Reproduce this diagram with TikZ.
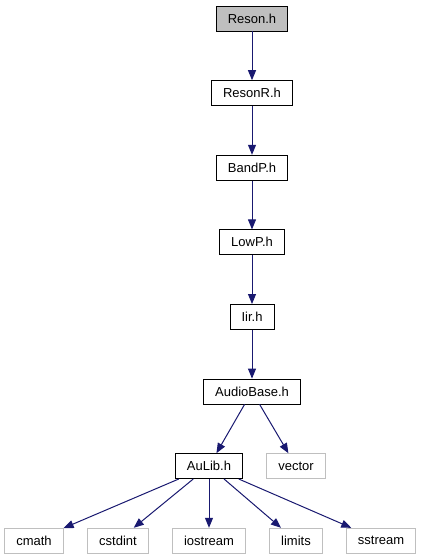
\documentclass[tikz,border=0pt]{standalone}
\usepackage{fontspec}
\setmainfont{Liberation Sans}
\usetikzlibrary{arrows.meta, positioning}
\definecolor{edgeblue}{HTML}{191970}
\definecolor{sysgray}{HTML}{BFBFBF}

\begin{document}
\begin{tikzpicture}[
    >={Triangle[length=10pt,width=8pt]},
    font=\fontsize{13}{15}\selectfont,
    box/.style={draw, thick, minimum height=25pt, inner xsep=11.5pt, inner ysep=0pt},
    sysbox/.style={box, draw=sysgray},
    dep/.style={->, edgeblue, line width=1pt}
]
\useasboundingbox (0,0) rectangle (421pt,-560pt);
\node[box, fill=sysgray] (reson) at (252pt,-18.5pt) {Reson.h};
\node[box, below=48.8pt of reson] (resonr) {ResonR.h};
\node[box, below=48.8pt of resonr] (bandp) {BandP.h};
\node[box, below=48.8pt of bandp] (lowp) {LowP.h};
\node[box, below=48.8pt of lowp] (iir) {Iir.h};
\node[box, below=48.8pt of iir] (audiobase) {AudioBase.h};
\node[box, below=48.8pt of audiobase, xshift=-43pt] (aulib) {AuLib.h};
\node[sysbox, below=48.8pt of audiobase, xshift=44pt] (vector) {vector};
\node[sysbox, below=48.8pt of aulib] (iostream) {iostream};
\node[sysbox, below=48.8pt of aulib, xshift=-175pt] (cmath) {cmath};
\node[sysbox, below=48.8pt of aulib, xshift=-91pt] (cstdint) {cstdint};
\node[sysbox, below=48.8pt of aulib, xshift=87pt] (limits) {limits};
\node[sysbox, below=48.8pt of aulib, xshift=172pt] (sstream) {sstream};
\draw[dep] (reson) -- (resonr);
\draw[dep] (resonr) -- (bandp);
\draw[dep] (bandp) -- (lowp);
\draw[dep] (lowp) -- (iir);
\draw[dep] (iir) -- (audiobase);
\draw[dep] (audiobase) -- (aulib);
\draw[dep] (audiobase) -- (vector);
\draw[dep] (aulib) -- (cmath);
\draw[dep] (aulib) -- (cstdint);
\draw[dep] (aulib) -- (iostream);
\draw[dep] (aulib) -- (limits);
\draw[dep] (aulib) -- (sstream);
\end{tikzpicture}
\end{document}
